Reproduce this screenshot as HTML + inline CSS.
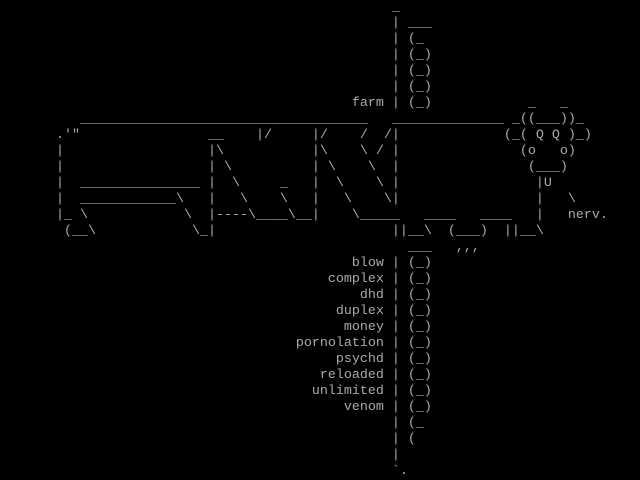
<!DOCTYPE html>
<html><head><meta charset="utf-8"><style>
html,body{margin:0;padding:0;background:#000;width:640px;height:480px;overflow:hidden}
pre{margin:0;padding:0;font-family:"Liberation Mono",monospace;font-size:13.333px;line-height:16px;color:#aaa;white-space:pre}
</style></head><body><pre>                                                 _
                                                 | ___
                                                 | (_
                                                 | (_)
                                                 | (_)
                                                 | (_)
                                            farm | (_)            _   _
          ____________________________________   ______________ _((___))_
       .'"                __    |/     |/    /  /|             (_( Q Q )_)
       |                  |\           |\    \ / |               (o   o)
       |                  | \          | \    \  |                (___)
       |  _______________ |  \     _   |  \    \ |                 |U
       |  ____________\   |   \    \   |   \    \|                 |   \
       |_ \            \  |----\____\__|    \_____   ____   ____   |   nerv.
        (__\            \_|                      ||__\  (___)  ||__\
                                                   ___   ,,,
                                            blow | (_)
                                         complex | (_)
                                             dhd | (_)
                                          duplex | (_)
                                           money | (_)
                                     pornolation | (_)
                                          psychd | (_)
                                        reloaded | (_)
                                       unlimited | (_)
                                           venom | (_)
                                                 | (_
                                                 | (
                                                 |
                                                 `.</pre></body></html>
